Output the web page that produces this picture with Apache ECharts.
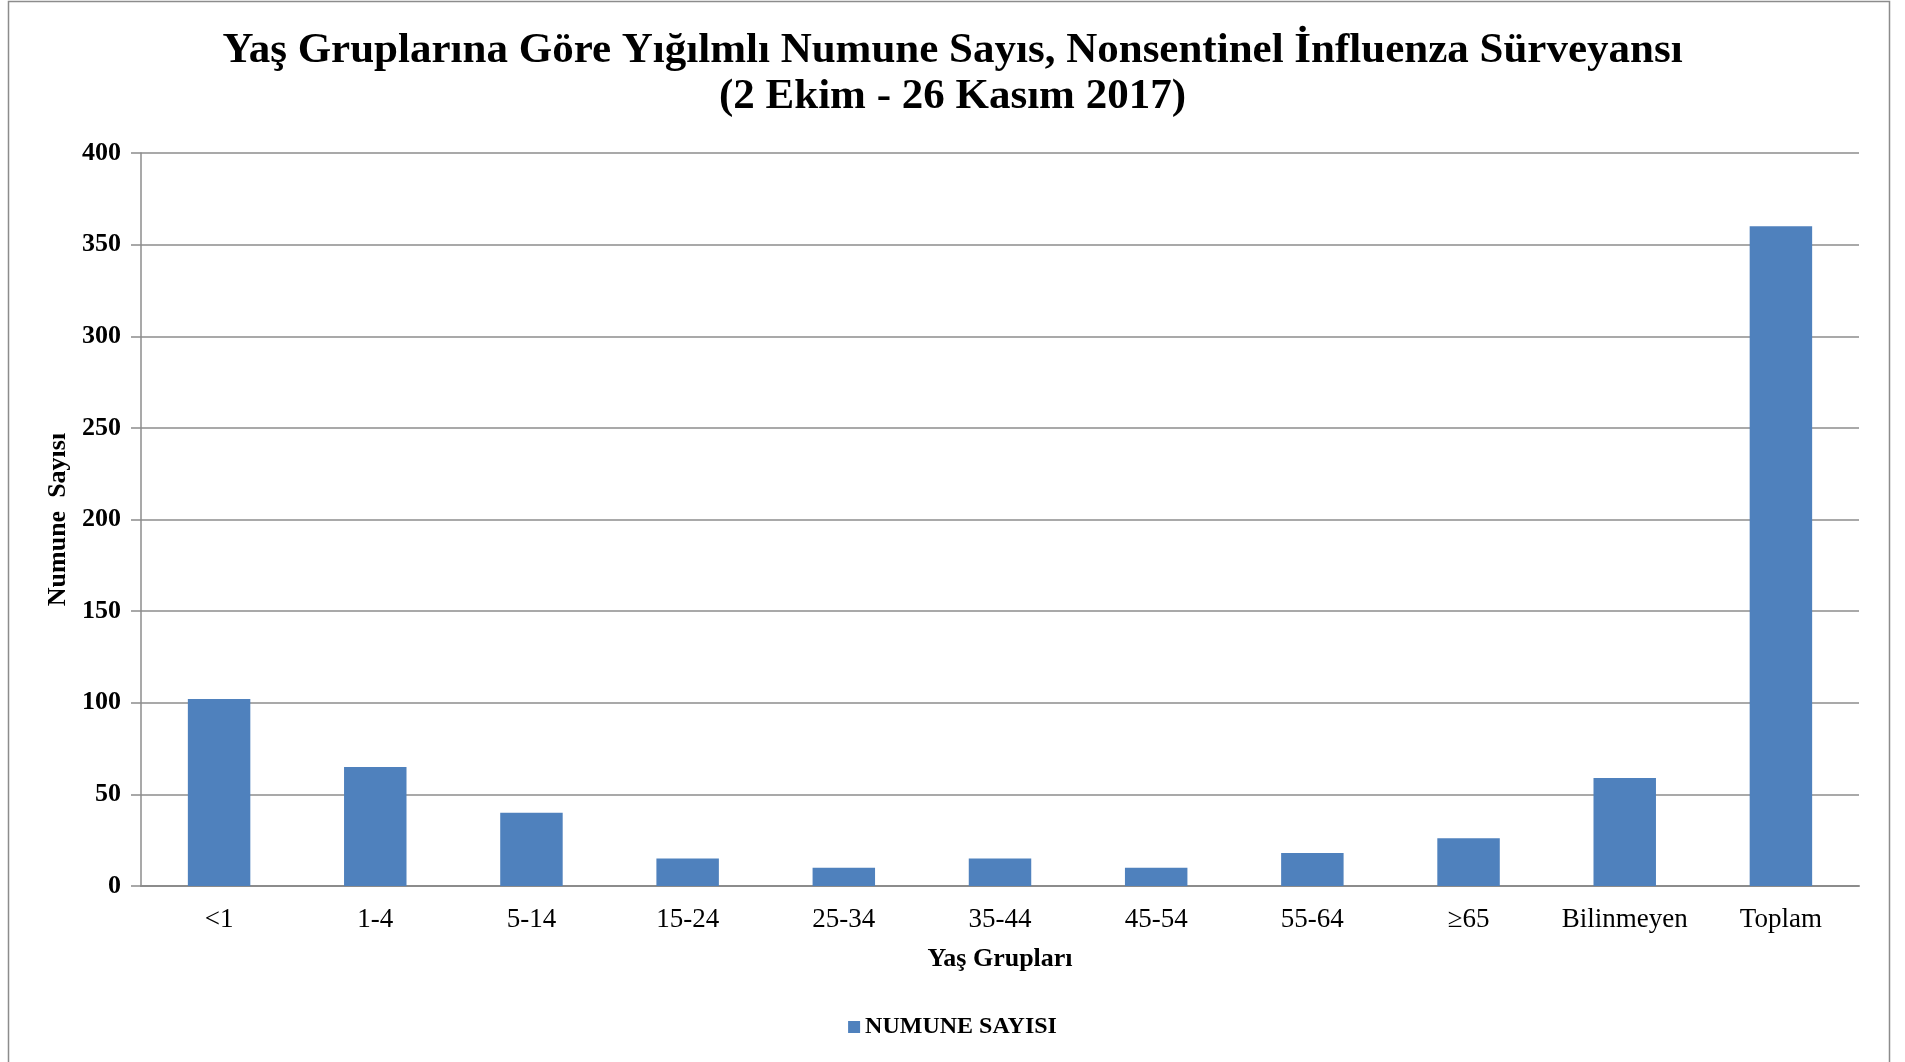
<!DOCTYPE html>
<html>
<head>
<meta charset="utf-8">
<script src="https://cdn.jsdelivr.net/npm/echarts@6/dist/echarts.min.js"></script>
<style>
  html, body { margin: 0; padding: 0; background: #fff; }
  #chart { width: 1905px; height: 1062px; }
</style>
</head>
<body>
<div id="chart"></div>
<script>
const ageGroups = ['<1', '1-4', '5-14', '15-24', '25-34', '35-44', '45-54', '55-64', '≥65', 'Bilinmeyen', 'Toplam']
const sampleCounts = [102, 65, 40, 15, 10, 15, 10, 18, 26, 59, 360]
const yTicks = { min: 0, max: 400, interval: 50 }

const serif = '"Liberation Serif", "Times New Roman", serif'
const myChart = echarts.init(document.getElementById('chart'))

myChart.setOption({
  animation: false,
  graphic: [
    {
      type: 'rect',
      shape: { x: 8.5, y: 1.5, width: 1881, height: 1100 },
      style: { fill: 'none', stroke: '#8c8c8c', lineWidth: 1.5 },
      silent: true
    }
  ],
  title: {
    text: 'Yaş Gruplarına Göre Yığılmlı Numune Sayıs, Nonsentinel İnfluenza Sürveyansı\n(2 Ekim - 26 Kasım 2017)',
    left: 'center',
    top: 23,
    textStyle: {
      fontFamily: serif,
      fontWeight: 'bold',
      fontSize: 43,
      lineHeight: 46,
      color: '#000'
    }
  },
  legend: {
    bottom: 18,
    left: 'center',
    icon: 'rect',
    itemWidth: 12,
    itemHeight: 12,
    itemGap: 6,
    textStyle: { fontFamily: serif, fontWeight: 'bold', fontSize: 24, color: '#000' }
  },
  grid: { left: 141, right: 46, top: 153, bottom: 176 },
  xAxis: {
    type: 'category',
    data: ageGroups,
    name: 'Yaş Grupları',
    nameLocation: 'middle',
    nameGap: 60,
    nameTextStyle: { fontFamily: serif, fontWeight: 'bold', fontSize: 26, color: '#000' },
    axisLine: { lineStyle: { color: '#8c8c8c', width: 2 } },
    axisTick: { show: false },
    axisLabel: { interval: 0, fontFamily: serif, fontSize: 27, color: '#000', margin: 20 }
  },
  yAxis: {
    type: 'value',
    min: yTicks.min,
    max: yTicks.max,
    interval: yTicks.interval,
    name: 'Numune  Sayısı',
    nameLocation: 'middle',
    nameGap: 70,
    nameTextStyle: { fontFamily: serif, fontWeight: 'bold', fontSize: 26, color: '#000' },
    axisLine: { show: true, lineStyle: { color: '#8c8c8c', width: 1.5 } },
    axisTick: { show: true, length: 10, lineStyle: { color: '#8c8c8c', width: 1.5 } },
    axisLabel: { fontFamily: serif, fontWeight: 'bold', fontSize: 26, color: '#000', margin: 20 },
    splitLine: { lineStyle: { color: '#8c8c8c', width: 1.5 } }
  },
  series: [
    {
      name: 'NUMUNE SAYISI',
      type: 'bar',
      data: sampleCounts,
      barWidth: '40%',
      itemStyle: { color: '#4f81bd' }
    }
  ]
})
</script>
</body>
</html>
